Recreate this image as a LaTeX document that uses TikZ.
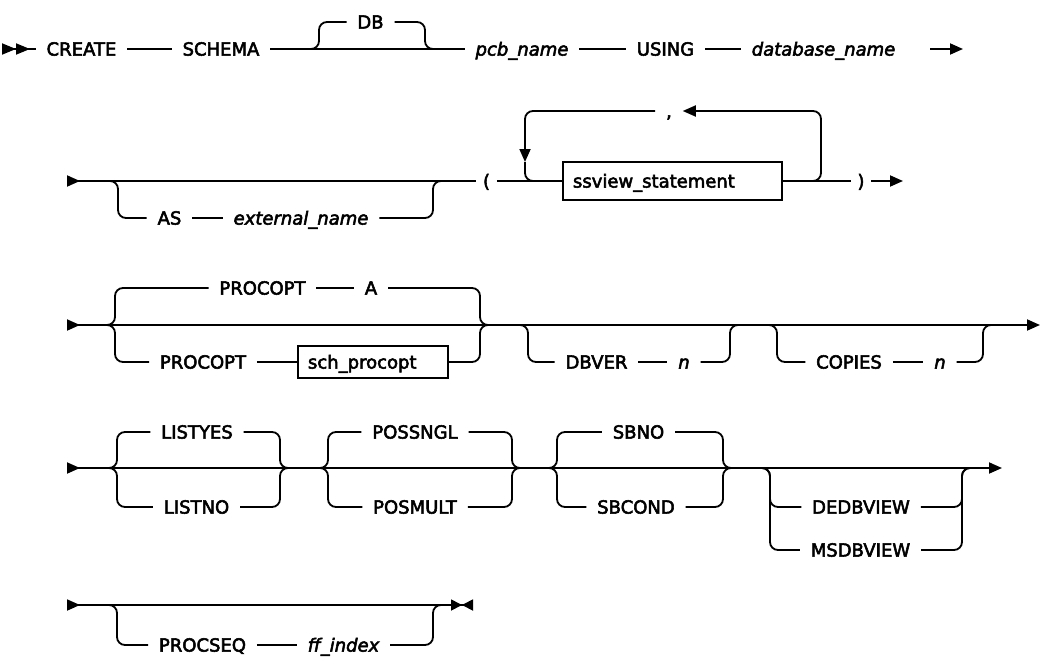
\documentclass[tikz,border=0pt]{standalone}
\usepackage{fontspec}
\setmainfont{DejaVu Sans}[FakeBold=3, UprightFeatures={FakeBold=3}, ItalicFeatures={FakeBold=3}]
\usetikzlibrary{arrows.meta}

\begin{document}
\begin{tikzpicture}[
  x=1pt, y=-1pt,
  line width=1.8pt,
  every node/.style={font=\fontsize{18}{22}\selectfont, inner xsep=10pt, inner ysep=0pt, text height=13.1pt, text depth=0pt},
  var/.style={font=\fontsize{18}{22}\selectfont\itshape},
  paren/.style={inner xsep=6pt},
  box/.style={draw, line width=1.8pt, minimum height=38pt, text width=#1},
  track/.style={rounded corners=8pt},
  arrow/.style={-{Triangle[length=13pt,width=11pt]}},
  beg/.style={arrows={Triangle[reversed,length=13pt,width=11pt]-}},
  row/.style={arrows={Triangle[reversed,length=13pt,width=11pt]-Triangle[length=13pt,width=11pt]}},
  start/.style={arrows={Triangle[reversed,length=14pt,width=11pt]Triangle[reversed,length=14pt,width=11pt]-}},
  stop/.style={arrows={Triangle[reversed,length=13pt,width=11pt]-Triangle[length=11pt,width=11pt]Triangle[reversed,length=11pt,width=11pt]}}
]
\useasboundingbox (0,0) rectangle (1041,658);

\coordinate (beg1) at (2,49);
\node (create) at (81.5,49) {CREATE};
\node (schema) at (221,49) {SCHEMA};
\node (db) at (370.5,22) {DB};
\node[var] (pcb) at (522,49) {pcb\_name};
\node (using) at (665.5,49) {USING};
\node[var] (dbname) at (823.5,49) {database\_name};
\coordinate (dbL) at (319,49);
\coordinate (dbR) at (425,49);
\coordinate (arr1) at (930,49);
\coordinate (end1) at (963,49);

\draw[start] (beg1) -- (create);
\draw (create) -- (schema);
\draw (schema) -- (pcb);
\draw[track] (dbL) ++(-14,0) -- (dbL) |- (db);
\draw[track] (db) -| (dbR) -- ++(14,0);
\draw (pcb) -- (using);
\draw (using) -- (dbname);
\draw[arrow] (arr1) -- (end1);

\coordinate (beg2) at (67,181);
\node (as) at (169.5,218) {AS};
\node[var] (ext) at (301,218) {external\_name};
\node[paren] (lpar) at (486.5,181) {(};
\node[box=199pt] (ssview) at (672.5,181) {ssview\_statement};
\node (comma) at (669,111) {,};
\node[paren] (rpar) at (861,181) {)};
\coordinate (asL) at (118,181);
\coordinate (asR) at (433,181);
\coordinate (lpL) at (525,181);
\coordinate (lpD) at (525,162);
\coordinate (lpR) at (821,181);
\coordinate (end2) at (903,181);

\draw[beg] (beg2) -- (lpar);
\draw[track] (asL) ++(-14,0) -- (asL) |- (as);
\draw (as) -- (ext);
\draw[track] (ext) -| (asR) -- ++(14,0);
\draw (lpar) -- (ssview);
\draw (ssview) -- (rpar);
\draw[arrow] (rpar) -- (end2);
\draw[track, arrow] (lpR) ++(-21,0) -- (lpR) |- (comma);
\draw[track, arrow] (comma) -| (lpD);
\draw[track] (lpD) -- (lpL) -- ++(18,0);

\coordinate (beg3) at (67,325);
\node (popA) at (262.5,288) {PROCOPT};
\node (optA) at (371,288) {A};
\node (popB) at (203,362) {PROCOPT};
\node[box=130pt, minimum height=32pt] (schp) at (373,362) {sch\_procopt};
\node (dbver) at (596.5,362) {DBVER};
\node[var] (dbvn) at (684,362) {n};
\node (copies) at (849,362) {COPIES};
\node[var] (copn) at (940,362) {n};
\coordinate (poL) at (115,325);
\coordinate (poR) at (480,325);
\coordinate (dvL) at (528,325);
\coordinate (dvR) at (730,325);
\coordinate (cpL) at (777,325);
\coordinate (cpR) at (983,325);
\coordinate (end3) at (1040,325);

\draw[row] (beg3) -- (end3);
\draw[track] (poL) ++(-14,0) -- (poL) |- (popA);
\draw (popA) -- (optA);
\draw[track] (optA) -| (poR) -- ++(14,0);
\draw[track] (poL) ++(-14,0) -- (poL) |- (popB);
\draw (popB) -- (schp);
\draw[track] (schp) -| (poR) -- ++(14,0);
\draw[track] (dvL) ++(-14,0) -- (dvL) |- (dbver);
\draw (dbver) -- (dbvn);
\draw[track] (dbvn) -| (dvR) -- ++(14,0);
\draw[track] (cpL) ++(-14,0) -- (cpL) |- (copies);
\draw (copies) -- (copn);
\draw[track] (copn) -| (cpR) -- ++(14,0);

\coordinate (beg4) at (67,468);
\node (lyes) at (197,432) {LISTYES};
\node (lno) at (196.5,507) {LISTNO};
\node (psng) at (415,432) {POSSNGL};
\node (pmul) at (415,507) {POSMULT};
\node (sbno) at (638.5,432) {SBNO};
\node (sbcd) at (636,507) {SBCOND};
\node (dedb) at (861,507) {DEDBVIEW};
\node (msdb) at (860.5,550) {MSDBVIEW};
\coordinate (lsL) at (117,468);
\coordinate (lsR) at (280,468);
\coordinate (psL) at (328,468);
\coordinate (psR) at (512,468);
\coordinate (sbL) at (557,468);
\coordinate (sbR) at (723,468);
\coordinate (vwL) at (770,468);
\coordinate (vwR) at (962,468);
\coordinate (end4) at (1002,468);

\draw[row] (beg4) -- (end4);
\draw[track] (lsL) ++(-14,0) -- (lsL) |- (lyes);
\draw[track] (lsL) ++(-14,0) -- (lsL) |- (lno);
\draw[track] (lyes) -| (lsR) -- ++(14,0);
\draw[track] (lno) -| (lsR) -- ++(14,0);
\draw[track] (psL) ++(-14,0) -- (psL) |- (psng);
\draw[track] (psL) ++(-14,0) -- (psL) |- (pmul);
\draw[track] (psng) -| (psR) -- ++(14,0);
\draw[track] (pmul) -| (psR) -- ++(14,0);
\draw[track] (sbL) ++(-14,0) -- (sbL) |- (sbno);
\draw[track] (sbL) ++(-14,0) -- (sbL) |- (sbcd);
\draw[track] (sbno) -| (sbR) -- ++(14,0);
\draw[track] (sbcd) -| (sbR) -- ++(14,0);
\draw[track] (vwL) ++(-14,0) -- (vwL) |- (dedb);
\draw[track] (vwL) ++(-14,0) -- (vwL) |- (msdb);
\draw[track] (dedb) -| (vwR) -- ++(14,0);
\draw[track] (msdb) -| (vwR) -- ++(14,0);

\coordinate (beg5) at (67,605);
\node (pseq) at (202.5,645) {PROCSEQ};
\node[var] (ffix) at (343.5,645) {ff\_index};
\coordinate (pqL) at (117,605);
\coordinate (pqR) at (433,605);
\coordinate (end5) at (473,605);

\draw[stop] (beg5) -- (end5);
\draw[track] (pqL) ++(-14,0) -- (pqL) |- (pseq);
\draw (pseq) -- (ffix);
\draw[track] (ffix) -| (pqR) -- ++(14,0);
\end{tikzpicture}
\end{document}
